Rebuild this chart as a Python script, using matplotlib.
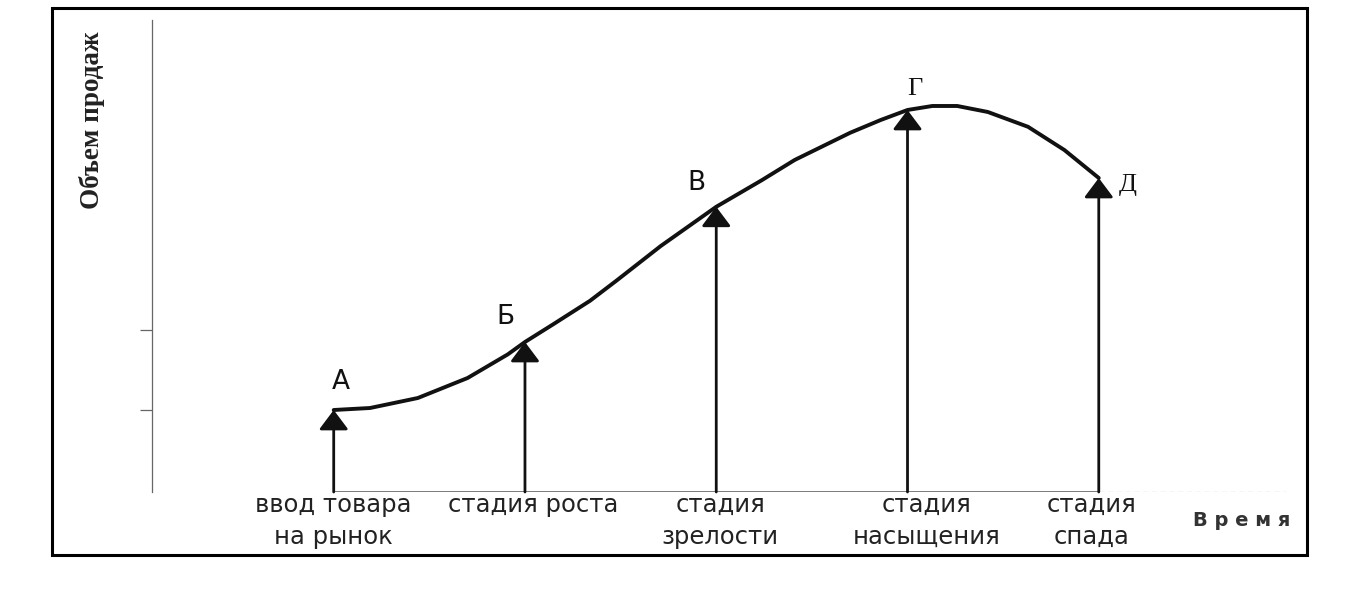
import numpy as np
import matplotlib
matplotlib.use('Agg')
from matplotlib import pyplot as plt
from matplotlib.patches import Rectangle

# stages of the product life cycle
stage_t = [1, 2, 3, 4, 5]
stage_sales = [20.5, 37.5, 71.3, 95.5, 78.5]
point_letters = ['А', 'Б', 'В', 'Г', 'Д']
stage_labels = ['ввод товара\nна рынок', 'стадия роста', 'стадия\nзрелости',
                'стадия\nнасыщения', 'стадия\nспада']

# sales curve
curve_t = [1.0, 1.19, 1.44, 1.7, 1.91, 2.0, 2.15, 2.34, 2.48, 2.71, 3.0,
           3.24, 3.41, 3.7, 3.86, 4.0, 4.13, 4.26, 4.42, 4.63, 4.82, 5.0]
curve_sales = [20.5, 21.0, 23.5, 28.5, 34.4, 37.5, 42.0, 47.8, 52.9, 61.5, 71.3,
               78.0, 83.0, 89.8, 93.0, 95.5, 96.5, 96.5, 95.0, 91.3, 85.5, 78.5]

y_ticks = [20.5, 40.5]

fig = plt.figure(figsize=(13.67, 6), dpi=100)
fig.set_facecolor('white')

#outer frame around the whole drawing
fig.patches.append(Rectangle((0.038, 0.075), 0.918, 0.912, transform=fig.transFigure,
                             fill=False, edgecolor='black', linewidth=2.2))

ax = fig.add_axes([0.1112, 0.18, 0.8325, 0.7867])
ax.set_facecolor('none')
ax.set_xlim(0.05, 6.0)
ax.set_ylim(0, 118)

for side in ['top', 'right', 'bottom']:
    ax.spines[side].set_visible(False)
ax.spines['left'].set_color('#666666')
ax.spines['left'].set_linewidth(0.9)
ax.set_xticks([])
ax.set_yticks(y_ticks)
ax.set_yticklabels([])
ax.tick_params(axis='y', direction='out', length=8.5, width=0.9, color='#666666')

# time axis
ax.hlines(0, stage_t[0], stage_t[-1], color='#666666', linewidth=1.2)
ax.hlines(0, stage_t[-1], 5.98, color='#bbbbbb', linewidth=0.9, linestyles=(0, (4, 3)))

# curve
ax.plot(curve_t, curve_sales, color='#111111', linewidth=2.8,
        solid_capstyle='round', solid_joinstyle='round')

# arrows from the time axis up to the curve
for t, s in zip(stage_t, stage_sales):
    ax.annotate('', xy=(t, s), xytext=(t, 0),
                arrowprops=dict(arrowstyle='-|>,head_length=0.6,head_width=0.45',
                                mutation_scale=20, color='#111111', lw=2.0,
                                shrinkA=0, shrinkB=0))

letter_offsets = [(5, 20), (-14, 18), (-14, 17), (5, 15), (21, -5)]
letter_fonts = ['DejaVu Sans', 'DejaVu Sans', 'DejaVu Sans', 'Liberation Serif', 'Liberation Serif']
for t, s, letter, off, fam in zip(stage_t, stage_sales, point_letters, letter_offsets, letter_fonts):
    ax.annotate(letter, xy=(t, s), xytext=off, textcoords='offset points',
                ha='center', va='center', fontsize=19, family=fam, color='#111111')

label_shift = [0, 6, 3, 14, -5]
for t, lab, dx in zip(stage_t, stage_labels, label_shift):
    ax.annotate(lab, xy=(t, 0), xytext=(dx, -1), textcoords='offset points',
                ha='center', va='top', fontsize=17.5, family='DejaVu Sans',
                color='#222222', linespacing=1.4)

fig.text(0.0673, 0.8, 'Объем продаж', rotation=90, ha='center', va='center',
         fontsize=19.5, family='Liberation Serif', fontweight='bold', color='#222222')
fig.text(0.9085, 0.133, 'В р е м я', ha='center', va='center',
         fontsize=14, family='DejaVu Sans', fontweight='bold', color='#333333')

plt.savefig('out.png', facecolor='white')
